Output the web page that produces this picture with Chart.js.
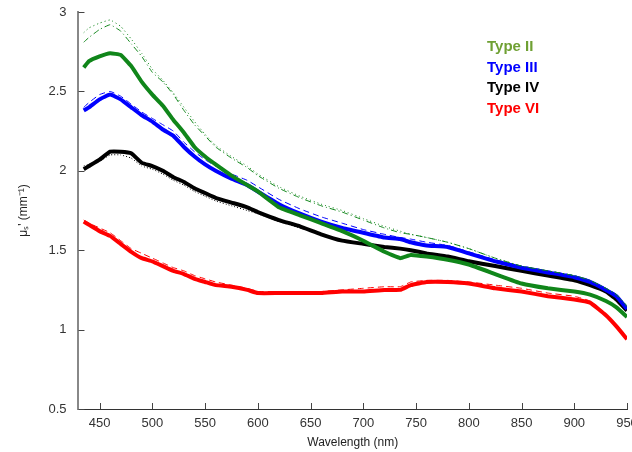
<!DOCTYPE html>
<html>
<head>
<meta charset="utf-8">
<title>Scattering spectra</title>
<script src="https://cdn.jsdelivr.net/npm/chart.js@4.4.1/dist/chart.umd.min.js"></script>
<style>
  html, body { margin: 0; padding: 0; background: #fff; overflow: hidden; }
</style>
</head>
<body>
<canvas id="c" width="632" height="452"></canvas>
<script>
// wavelength (nm)
const nm = [435,440,450,460,470,480,490,500,510,520,530,540,550,560,575,590,600,620,640,660,680,700,720,735,745,760,780,800,825,850,875,900,915,930,940,950];

// Type II (green)
const type2     = [2.65,2.69,2.72,2.74,2.73,2.66,2.56,2.48,2.41,2.32,2.24,2.15,2.09,2.04,1.97,1.91,1.87,1.77,1.72,1.67,1.62,1.56,1.49,1.45,1.47,1.46,1.44,1.41,1.35,1.29,1.26,1.24,1.22,1.18,1.14,1.08];
const type2Dash = [2.81,2.84,2.89,2.92,2.88,2.80,2.72,2.62,2.56,2.48,2.38,2.29,2.22,2.15,2.08,2.02,1.97,1.89,1.83,1.78,1.74,1.69,1.64,1.61,1.60,1.58,1.55,1.51,1.45,1.40,1.37,1.34,1.31,1.26,1.22,1.15];
const type2Dot  = [2.87,2.90,2.93,2.95,2.91,2.83,2.74,2.64,2.57,2.49,2.40,2.31,2.23,2.16,2.09,2.03,1.98,1.90,1.84,1.79,1.75,1.70,1.65,1.62,1.60,1.58,1.55,1.51,1.45,1.40,1.37,1.34,1.31,1.26,1.22,1.14];

// Type III (blue)
const type3     = [2.38,2.40,2.45,2.48,2.45,2.40,2.35,2.31,2.26,2.22,2.15,2.09,2.04,2.00,1.95,1.91,1.87,1.79,1.73,1.68,1.64,1.61,1.58,1.57,1.55,1.53,1.52,1.48,1.43,1.39,1.36,1.33,1.30,1.25,1.21,1.13];
const type3Dash = [2.40,2.43,2.48,2.50,2.47,2.42,2.37,2.33,2.29,2.25,2.18,2.12,2.07,2.03,1.98,1.94,1.90,1.82,1.76,1.71,1.67,1.63,1.60,1.58,1.57,1.55,1.53,1.49,1.44,1.40,1.37,1.34,1.31,1.26,1.22,1.14];

// Type IV (black)
const type4     = [2.01,2.03,2.07,2.12,2.12,2.11,2.05,2.03,2.00,1.96,1.93,1.89,1.86,1.83,1.80,1.77,1.74,1.69,1.65,1.60,1.56,1.54,1.52,1.51,1.50,1.48,1.46,1.43,1.40,1.37,1.34,1.31,1.28,1.24,1.19,1.12];
const type4Dot  = [2.03,2.04,2.06,2.10,2.10,2.08,2.03,2.01,1.98,1.94,1.91,1.87,1.84,1.81,1.78,1.75,1.73,1.68,1.64,1.60,1.56,1.54,1.52,1.51,1.50,1.48,1.46,1.43,1.40,1.37,1.34,1.31,1.28,1.24,1.19,1.12];

// Type VI (red)
const type6     = [1.68,1.66,1.62,1.59,1.54,1.49,1.45,1.43,1.40,1.37,1.35,1.32,1.30,1.28,1.27,1.25,1.23,1.23,1.23,1.23,1.24,1.24,1.25,1.25,1.28,1.30,1.30,1.29,1.26,1.24,1.21,1.19,1.17,1.09,1.02,0.94];
const type6Dash = [1.69,1.67,1.64,1.61,1.56,1.51,1.48,1.45,1.42,1.39,1.37,1.34,1.32,1.30,1.28,1.26,1.24,1.24,1.24,1.24,1.25,1.26,1.27,1.27,1.30,1.31,1.31,1.30,1.28,1.26,1.23,1.21,1.18,1.10,1.03,0.95];

const xTicks = [450,500,550,600,650,700,750,800,850,900,950];
const legendNames = ['Type II','Type III','Type IV','Type VI'];
const legendColors = ['#6fa033','#0000ff','#000000','#ff0000'];

const GREEN = '#10861a', BLUE = '#0000ff', BLACK = '#000000', RED = '#ff0000';

function pts(ys) { return nm.map((x, i) => ({ x: x, y: ys[i] })); }
function thin(ys, color, dash) {
  return { data: pts(ys), borderColor: color, borderWidth: 1, borderDash: dash, pointRadius: 0, tension: 0.1, fill: false };
}
function thick(ys, color) {
  return { data: pts(ys), borderColor: color, borderWidth: 4, pointRadius: 0, tension: 0.1, fill: false };
}

const decor = {
  id: 'decor',
  afterDraw(chart) {
    const ctx = chart.ctx, a = chart.chartArea;
    const xs = chart.scales.x, ys = chart.scales.y;
    ctx.save();
    // inward ticks
    ctx.strokeStyle = '#444';
    ctx.lineWidth = 1;
    xs.ticks.forEach(t => {
      const px = Math.round(xs.getPixelForValue(t.value)) + 0.5;
      ctx.beginPath(); ctx.moveTo(px, a.bottom); ctx.lineTo(px, a.bottom - 6); ctx.stroke();
    });
    ys.ticks.forEach(t => {
      const py = Math.round(ys.getPixelForValue(t.value)) + 0.5;
      ctx.beginPath(); ctx.moveTo(a.left, py); ctx.lineTo(a.left + 6, py); ctx.stroke();
    });
    // legend text
    ctx.font = 'bold 15px "Liberation Sans", Arial, sans-serif';
    ctx.textBaseline = 'middle';
    ctx.textAlign = 'left';
    legendNames.forEach((n, i) => {
      ctx.fillStyle = legendColors[i];
      ctx.fillText(n, 487, 47 + i * 20.5);
    });
    ctx.restore();
  }
};

new Chart(document.getElementById('c'), {
  type: 'line',
  data: {
    datasets: [
      thin(type2Dot, GREEN, [1, 3]),
      thin(type2Dash, GREEN, [6, 3, 1, 3]),
      thick(type2, GREEN),
      thin(type3Dash, BLUE, [6, 4]),
      thick(type3, BLUE),
      thin(type4Dot, BLACK, [1, 2]),
      thick(type4, BLACK),
      thin(type6Dash, RED, [6, 4]),
      thick(type6, RED)
    ]
  },
  plugins: [decor],
  options: {
    responsive: false,
    animation: false,
    layout: { padding: { top: 12, right: 5, left: 12, bottom: 0 } },
    plugins: { legend: { display: false }, tooltip: { enabled: false } },
    scales: {
      x: {
        type: 'linear',
        min: 430, max: 950,
        afterBuildTicks(scale) { scale.ticks = xTicks.map(v => ({ value: v })); },
        afterFit(scale) { scale.paddingRight = 0; scale.paddingLeft = 0; scale.height = 43; },
        grid: { display: false, drawTicks: false },
        border: { display: true, color: '#333', width: 1 },
        ticks: { autoSkip: false, color: '#333', font: { family: 'Liberation Sans, Arial', size: 13 }, padding: 7, maxRotation: 0 },
        title: { display: true, text: 'Wavelength (nm)', color: '#222', font: { family: 'Liberation Sans, Arial', size: 12 }, padding: { top: 0, bottom: 2 } }
      },
      y: {
        min: 0.5, max: 3,
        afterFit(scale) { scale.paddingTop = 0; scale.paddingBottom = 0; },
        ticks: { autoSkip: false, stepSize: 0.5, color: '#333', font: { family: 'Liberation Sans, Arial', size: 13 }, padding: 12,
                 callback: v => String(v) },
        grid: { display: false, drawTicks: false },
        border: { display: true, color: '#888', width: 2 },
        title: { display: true, text: "μₛ' (mm⁻¹)", color: '#222', font: { family: 'Liberation Sans, Arial', size: 12 }, padding: { bottom: 6 } }
      }
    }
  }
});
</script>
</body>
</html>
